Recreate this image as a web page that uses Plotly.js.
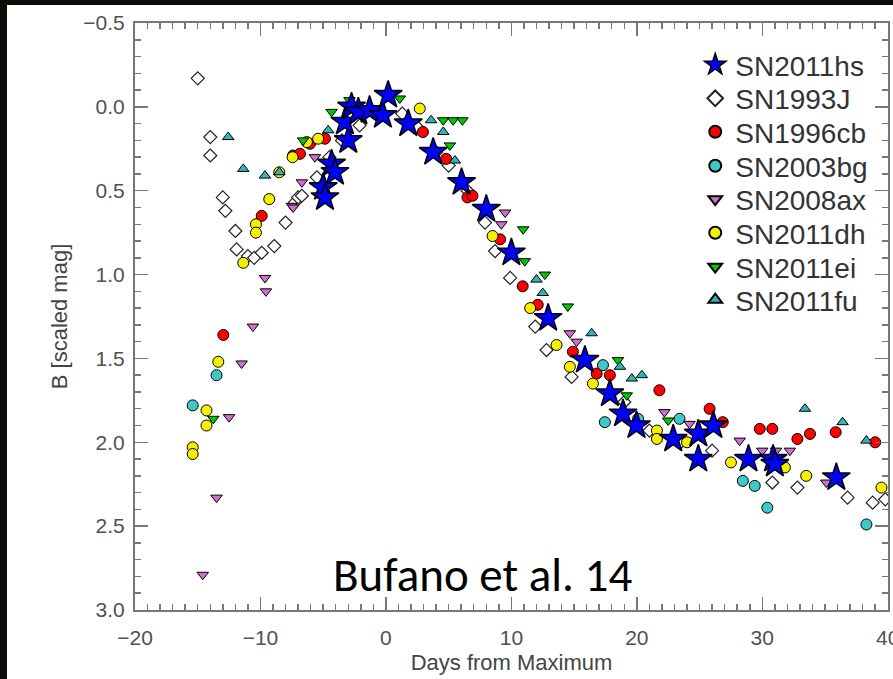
<!DOCTYPE html>
<html>
<head>
<meta charset="utf-8">
<script src="https://cdn.plot.ly/plotly-3.0.1.min.js"></script>
<style>html,body{margin:0;padding:0;background:#fff;}#chart{width:893px;height:679px;}</style>
</head>
<body>
<div id="chart"></div>
<script>
// ---- data (days from maximum, B scaled mag) ----
const sn2011hsDays = [-5.0, -4.86, -4.33, -4.06, -3.0, -3.27, -2.74, -2.2, -1.3, -0.24, 0.18, 1.78, 3.77, 6.03, 8.0, 10.0, 12.93, 15.86, 17.85, 18.9, 19.97, 22.9, 24.9, 24.9, 26.1, 28.9, 30.86, 31.0, 35.9];
const sn2011hsMag  = [0.48, 0.54, 0.34, 0.39, 0.2, 0.09, 0.0, 0.03, 0.02, 0.05, -0.07, 0.1, 0.27, 0.45, 0.61, 0.87, 1.26, 1.51, 1.71, 1.83, 1.9, 1.98, 1.95, 2.1, 1.9, 2.1, 2.1, 2.13, 2.21];

const sn1993jDays = [-15.0, -14.0, -14.0, -13.0, -12.8, -12.0, -11.9, -11.0, -10.5, -9.9, -8.9, -8.0, -7.25, -7.0, -6.7, -5.5, -4.5, -3.5, -2.1, -1.0, 1.3, 2.5, 4.0, 5.0, 6.5, 7.9, 8.7, 9.9, 11.9, 12.8, 14.8, 19.0, 21.0, 23.5, 26.0, 30.8, 32.8, 36.8, 38.8, 39.8];
const sn1993jMag  = [-0.17, 0.18, 0.29, 0.54, 0.62, 0.74, 0.85, 0.89, 0.9, 0.87, 0.83, 0.69, 0.57, 0.54, 0.53, 0.42, 0.3, 0.2, 0.11, 0.03, 0.04, 0.12, 0.27, 0.35, 0.5, 0.69, 0.86, 1.02, 1.31, 1.45, 1.61, 1.76, 1.93, 2.0, 2.05, 2.24, 2.27, 2.33, 2.36, 2.34];

const sn1996cbDays = [-12.96, -9.9, -7.4, -6.85, -6.05, -4.86, 2.95, 4.8, 6.5, 6.9, 9.1, 10.9, 12.1, 14.9, 16.8, 17.85, 21.8, 25.8, 26.85, 29.8, 30.8, 32.8, 33.8, 35.85, 39.0];
const sn1996cbMag  = [1.36, 0.65, 0.29, 0.28, 0.22, 0.19, 0.15, 0.31, 0.54, 0.53, 0.79, 1.07, 1.18, 1.46, 1.59, 1.6, 1.69, 1.8, 1.88, 1.92, 1.92, 1.98, 1.95, 1.94, 2.0];

const sn2003bgDays = [-15.4, -13.5, 17.3, 17.45, 20.1, 23.4, 28.45, 29.4, 30.4, 38.3];
const sn2003bgMag  = [1.78, 1.6, 1.54, 1.88, 1.86, 1.86, 2.23, 2.26, 2.39, 2.49];

const sn2008axDays = [-14.6, -13.5, -12.5, -11.5, -10.6, -9.64, -9.56, -7.5, -7.4, -6.7, -5.66, 9.2, 9.5, 14.66, 15.2, 22.2, 24.2, 28.2, 30.0, 31.1, 32.2, 35.1];
const sn2008axMag  = [2.79, 2.33, 1.85, 1.53, 1.31, 1.02, 1.1, 0.59, 0.6, 0.45, 0.3, 0.7, 0.63, 1.35, 1.4, 1.82, 1.89, 1.99, 2.05, 2.05, 2.05, 2.24];

const sn2011dhDays = [-15.4, -15.4, -14.3, -14.3, -13.36, -11.37, -10.36, -10.36, -9.3, -8.5, -7.44, -6.3, -5.4, 2.7, 8.5, 11.5, 13.6, 14.66, 16.5, 21.6, 21.6, 24.0, 27.5, 31.8, 33.5, 39.5];
const sn2011dhMag  = [2.03, 2.07, 1.81, 1.9, 1.52, 0.93, 0.7, 0.75, 0.55, 0.39, 0.3, 0.21, 0.19, 0.01, 0.77, 1.2, 1.42, 1.55, 1.65, 1.93, 1.98, 2.0, 2.12, 2.15, 2.2, 2.27];

const sn2011eiDays = [-13.76, -6.6, -4.33, -2.9, 1.1, 4.57, 5.36, 6.1, 5.1, 10.94, 11.07, 12.67, 14.5, 18.5, 19.2, 22.5];
const sn2011eiMag  = [1.86, 0.2, 0.03, -0.04, -0.05, 0.08, 0.08, 0.08, 0.23, 0.73, 0.92, 1.0, 1.19, 1.51, 1.72, 1.87];

const sn2011fuDays = [-12.57, -11.37, -9.64, -8.5, -4.6, 3.6, 4.57, 5.5, 12.0, 12.5, 16.4, 18.65, 19.6, 20.4, 33.4, 36.4, 38.3];
const sn2011fuMag  = [0.18, 0.37, 0.41, 0.39, 0.14, 0.08, 0.15, 0.32, 1.03, 1.11, 1.35, 1.55, 1.62, 1.6, 1.8, 1.88, 1.99];

const legendNames = ['SN2011hs', 'SN1993J', 'SN1996cb', 'SN2003bg', 'SN2008ax', 'SN2011dh', 'SN2011ei', 'SN2011fu'];

// ---- styling ----
const edge = {color: '#000', width: 1};
function tr(x, y, name, marker, leg) {
  return {x: x, y: y, name: name, type: 'scatter', mode: 'markers', marker: marker, legend: leg, hoverinfo: 'skip'};
}
const traces = [
  tr(sn1993jDays, sn1993jMag, legendNames[1], {symbol: 'diamond', size: 10, color: '#ffffff', line: {color: '#222', width: 1.2}}, 'legend2'),
  tr(sn1996cbDays, sn1996cbMag, legendNames[2], {symbol: 'circle', size: 11, color: '#ff0000', line: edge}, 'legend3'),
  tr(sn2003bgDays, sn2003bgMag, legendNames[3], {symbol: 'circle', size: 11, color: '#40c8c8', line: edge}, 'legend4'),
  tr(sn2008axDays, sn2008axMag, legendNames[4], {symbol: 'triangle-down', size: 10, color: '#d26ed2', line: edge}, 'legend5'),
  tr(sn2011dhDays, sn2011dhMag, legendNames[5], {symbol: 'circle', size: 11, color: '#f5f000', line: edge}, 'legend6'),
  tr(sn2011eiDays, sn2011eiMag, legendNames[6], {symbol: 'triangle-down', size: 10, color: '#00c800', line: edge}, 'legend7'),
  tr(sn2011fuDays, sn2011fuMag, legendNames[7], {symbol: 'triangle-up', size: 10, color: '#30b4b4', line: edge}, 'legend8'),
  tr(sn2011hsDays, sn2011hsMag, legendNames[0], {symbol: 'star', size: 21, color: '#0000ff', line: {color: '#000', width: 1.5}}, 'legend')
];

const axisFont = {family: '"Liberation Sans", Arial, sans-serif', size: 21, color: '#505050'};
const titleFont = {family: '"Liberation Sans", Arial, sans-serif', size: 22, color: '#444'};
const legRowsY = [0.9284, 0.8712, 0.8143, 0.7564, 0.6993, 0.6422, 0.5843, 0.5281];
function legendBox(i, sizing) {
  return {x: 0.744, xanchor: 'left', y: legRowsY[i], yanchor: 'middle', bgcolor: 'rgba(0,0,0,0)',
          borderwidth: 0, itemsizing: sizing,
          font: {family: '"Liberation Sans", Arial, sans-serif', size: 28, color: '#333'}};
}

const layout = {
  width: 893, height: 679,
  margin: {l: 135, r: 5, t: 23, b: 69},
  paper_bgcolor: '#ffffff', plot_bgcolor: '#ffffff',
  showlegend: true,
  legend: legendBox(0, 'trace'),
  legend2: legendBox(1, 'constant'),
  legend3: legendBox(2, 'constant'),
  legend4: legendBox(3, 'constant'),
  legend5: legendBox(4, 'constant'),
  legend6: legendBox(5, 'constant'),
  legend7: legendBox(6, 'constant'),
  legend8: legendBox(7, 'constant'),
  xaxis: {
    range: [-20, 40.02], tickmode: 'linear', tick0: -20, dtick: 10,
    ticks: 'inside', ticklen: 13, tickwidth: 1.5, tickcolor: '#777',
    minor: {dtick: 1, ticks: 'inside', ticklen: 6, tickwidth: 1.5, tickcolor: '#777'},
    showline: true, linecolor: '#777', linewidth: 2, mirror: 'allticks',
    showgrid: false, zeroline: false, tickfont: axisFont, ticklabelstandoff: 8,
    ticklabeloverflow: 'allow',
    title: {text: 'Days from Maximum', font: titleFont, standoff: 6}
  },
  yaxis: {
    range: [3.0, -0.5], tickmode: 'linear', tick0: -0.5, dtick: 0.5, tickformat: '.1f',
    ticks: 'inside', ticklen: 13, tickwidth: 1.5, tickcolor: '#777',
    minor: {dtick: 0.1, ticks: 'inside', ticklen: 6, tickwidth: 1.5, tickcolor: '#777'},
    showline: true, linecolor: '#777', linewidth: 2, mirror: 'allticks',
    showgrid: false, zeroline: false, tickfont: axisFont, ticklabelstandoff: 4,
    title: {text: 'B [scaled mag]', font: titleFont, standoff: 10}
  },
  shapes: [
    {type: 'rect', xref: 'paper', yref: 'paper', x0: -0.2, x1: (7 - 135) / 753, y0: -0.2, y1: 1.1, fillcolor: '#0c0c09', line: {width: 0}, layer: 'above'},
    {type: 'rect', xref: 'paper', yref: 'paper', x0: -0.2, x1: 1.1, y0: 1 + (23 - 5) / 587, y1: 1.1, fillcolor: '#0c0c09', line: {width: 0}, layer: 'above'}
  ],
  annotations: [
    {text: 'Bufano et al. 14', xref: 'paper', yref: 'paper', x: 0.461, y: 0.06, xanchor: 'center', yanchor: 'middle',
     showarrow: false, font: {family: 'Carlito, Lato, "Open Sans", sans-serif', size: 47, color: '#000'}}
  ]
};

Plotly.newPlot('chart', traces, layout, {staticPlot: true, displayModeBar: false});
</script>
</body>
</html>
